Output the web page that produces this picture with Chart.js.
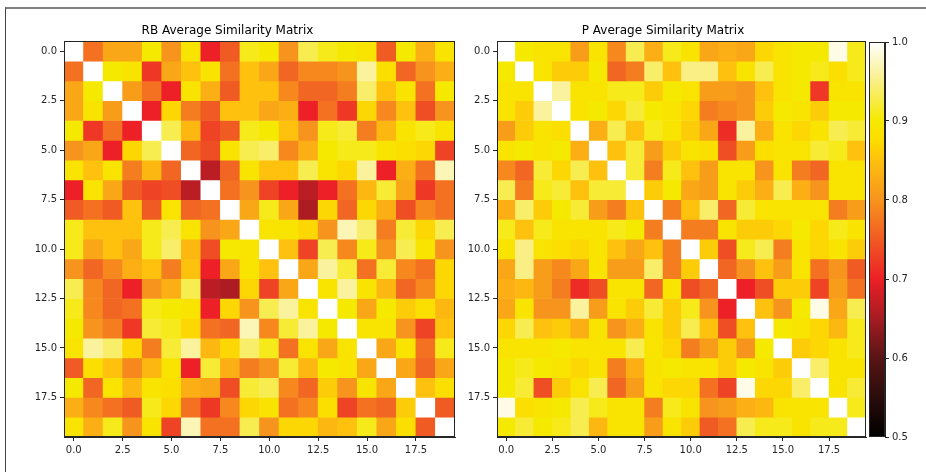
<!DOCTYPE html>
<html>
<head>
<meta charset="utf-8">
<script src="https://cdn.jsdelivr.net/npm/chart.js@4.4.1/dist/chart.umd.min.js"></script>
<style>
  html, body { margin: 0; padding: 0; background: #fff; }
  #page { position: relative; width: 926px; height: 472px; overflow: hidden; }
  #frame { position: absolute; left: 5px; top: 7px; right: 0; bottom: 0; border-top: 2px solid #808080; border-left: 1px solid #444; }
  canvas { position: absolute; top: 0; }
  #rb { left: 0; }
  #p { left: 460px; }
  #cbar { left: 866px; }
</style>
</head>
<body>
<div id="page">
  <div id="frame"></div>
  <canvas id="rb" width="460" height="472"></canvas>
  <canvas id="p" width="410" height="472"></canvas>
  <canvas id="cbar" width="60" height="472"></canvas>
</div>
<script>
// average similarity values, row by row (20 x 20)
const rbMatrix = [
  [1.00, 0.77, 0.82, 0.82, 0.90, 0.80, 0.89, 0.70, 0.75, 0.91, 0.90, 0.80, 0.93, 0.91, 0.90, 0.89, 0.75, 0.90, 0.83, 0.89],
  [0.77, 1.00, 0.90, 0.89, 0.72, 0.82, 0.85, 0.89, 0.77, 0.85, 0.82, 0.76, 0.79, 0.79, 0.80, 0.96, 0.88, 0.76, 0.80, 0.83],
  [0.82, 0.90, 1.00, 0.81, 0.77, 0.70, 0.89, 0.83, 0.75, 0.85, 0.85, 0.79, 0.76, 0.76, 0.78, 0.94, 0.85, 0.89, 0.77, 0.90],
  [0.82, 0.89, 0.81, 1.00, 0.70, 0.87, 0.78, 0.75, 0.85, 0.85, 0.82, 0.83, 0.70, 0.77, 0.72, 0.87, 0.79, 0.85, 0.74, 0.80],
  [0.90, 0.72, 0.77, 0.70, 1.00, 0.93, 0.84, 0.73, 0.75, 0.91, 0.90, 0.85, 0.80, 0.91, 0.92, 0.78, 0.84, 0.89, 0.91, 0.89],
  [0.80, 0.82, 0.70, 0.87, 0.93, 1.00, 0.76, 0.74, 0.89, 0.93, 0.94, 0.79, 0.83, 0.90, 0.91, 0.91, 0.89, 0.88, 0.87, 0.73],
  [0.89, 0.85, 0.89, 0.78, 0.84, 0.76, 1.00, 0.665, 0.76, 0.89, 0.85, 0.85, 0.93, 0.89, 0.87, 0.96, 0.70, 0.83, 0.77, 0.97],
  [0.70, 0.89, 0.82, 0.75, 0.73, 0.74, 0.665, 1.00, 0.77, 0.80, 0.73, 0.70, 0.665, 0.70, 0.77, 0.84, 0.92, 0.82, 0.72, 0.77],
  [0.75, 0.77, 0.75, 0.85, 0.75, 0.89, 0.76, 0.77, 1.00, 0.82, 0.91, 0.82, 0.655, 0.87, 0.76, 0.87, 0.83, 0.74, 0.79, 0.77],
  [0.91, 0.85, 0.85, 0.85, 0.91, 0.93, 0.89, 0.80, 0.82, 1.00, 0.89, 0.89, 0.87, 0.80, 0.97, 0.94, 0.78, 0.92, 0.87, 0.93],
  [0.91, 0.82, 0.85, 0.82, 0.91, 0.94, 0.84, 0.74, 0.90, 0.89, 1.00, 0.85, 0.73, 0.93, 0.79, 0.91, 0.80, 0.93, 0.89, 0.80],
  [0.80, 0.76, 0.79, 0.83, 0.85, 0.78, 0.85, 0.70, 0.82, 0.89, 0.85, 1.00, 0.82, 0.96, 0.92, 0.77, 0.92, 0.79, 0.77, 0.87],
  [0.93, 0.79, 0.76, 0.70, 0.80, 0.83, 0.93, 0.665, 0.655, 0.87, 0.73, 0.82, 1.00, 0.89, 0.96, 0.89, 0.84, 0.76, 0.79, 0.87],
  [0.91, 0.79, 0.76, 0.77, 0.91, 0.90, 0.89, 0.70, 0.87, 0.80, 0.93, 0.96, 0.89, 1.00, 0.90, 0.82, 0.90, 0.86, 0.88, 0.84],
  [0.90, 0.80, 0.78, 0.72, 0.92, 0.91, 0.87, 0.77, 0.76, 0.97, 0.79, 0.92, 0.96, 0.90, 1.00, 0.89, 0.89, 0.80, 0.73, 0.85],
  [0.89, 0.96, 0.94, 0.87, 0.78, 0.92, 0.96, 0.84, 0.87, 0.94, 0.91, 0.77, 0.89, 0.82, 0.89, 1.00, 0.82, 0.89, 0.77, 0.91],
  [0.75, 0.88, 0.85, 0.79, 0.84, 0.89, 0.70, 0.92, 0.83, 0.78, 0.80, 0.92, 0.84, 0.90, 0.89, 0.82, 1.00, 0.82, 0.76, 0.82],
  [0.90, 0.76, 0.89, 0.84, 0.89, 0.88, 0.83, 0.82, 0.74, 0.92, 0.93, 0.79, 0.76, 0.86, 0.80, 0.89, 0.82, 1.00, 0.85, 0.88],
  [0.83, 0.79, 0.77, 0.75, 0.91, 0.87, 0.77, 0.72, 0.79, 0.87, 0.89, 0.77, 0.79, 0.88, 0.73, 0.77, 0.76, 0.86, 1.00, 0.75],
  [0.89, 0.83, 0.91, 0.80, 0.89, 0.73, 0.97, 0.77, 0.77, 0.93, 0.80, 0.87, 0.87, 0.84, 0.85, 0.91, 0.82, 0.88, 0.75, 1.00]
];

const pMatrix = [
  [1.00, 0.90, 0.89, 0.89, 0.81, 0.89, 0.79, 0.93, 0.83, 0.91, 0.89, 0.82, 0.83, 0.82, 0.87, 0.89, 0.90, 0.90, 0.99, 0.91],
  [0.90, 1.00, 0.89, 0.86, 0.86, 0.90, 0.76, 0.78, 0.94, 0.85, 0.95, 0.95, 0.85, 0.89, 0.93, 0.89, 0.90, 0.91, 0.88, 0.91],
  [0.89, 0.89, 1.00, 0.96, 0.89, 0.89, 0.91, 0.91, 0.86, 0.90, 0.89, 0.81, 0.81, 0.80, 0.85, 0.89, 0.90, 0.72, 0.89, 0.89],
  [0.89, 0.86, 0.96, 1.00, 0.89, 0.90, 0.87, 0.92, 0.90, 0.89, 0.87, 0.78, 0.79, 0.80, 0.86, 0.90, 0.89, 0.86, 0.90, 0.90],
  [0.81, 0.86, 0.89, 0.88, 1.00, 0.83, 0.93, 0.85, 0.91, 0.89, 0.86, 0.82, 0.71, 0.96, 0.83, 0.89, 0.87, 0.89, 0.93, 0.92],
  [0.89, 0.90, 0.89, 0.90, 0.83, 1.00, 0.85, 0.92, 0.81, 0.86, 0.89, 0.88, 0.74, 0.81, 0.88, 0.89, 0.89, 0.92, 0.91, 0.85],
  [0.79, 0.76, 0.92, 0.87, 0.93, 0.85, 1.00, 0.92, 0.78, 0.91, 0.85, 0.81, 0.89, 0.89, 0.80, 0.89, 0.78, 0.76, 0.89, 0.89],
  [0.93, 0.78, 0.91, 0.92, 0.85, 0.92, 0.92, 1.00, 0.86, 0.90, 0.82, 0.81, 0.89, 0.86, 0.83, 0.93, 0.83, 0.80, 0.89, 0.89],
  [0.83, 0.94, 0.86, 0.90, 0.92, 0.81, 0.78, 0.85, 1.00, 0.78, 0.85, 0.94, 0.76, 0.92, 0.89, 0.89, 0.89, 0.89, 0.78, 0.81],
  [0.91, 0.85, 0.91, 0.89, 0.89, 0.89, 0.91, 0.90, 0.78, 1.00, 0.78, 0.78, 0.89, 0.86, 0.86, 0.87, 0.90, 0.87, 0.91, 0.89],
  [0.89, 0.95, 0.89, 0.88, 0.87, 0.89, 0.85, 0.82, 0.85, 0.78, 1.00, 0.86, 0.74, 0.91, 0.93, 0.78, 0.89, 0.87, 0.89, 0.86],
  [0.82, 0.95, 0.81, 0.79, 0.82, 0.89, 0.81, 0.81, 0.94, 0.78, 0.86, 1.00, 0.76, 0.80, 0.85, 0.81, 0.89, 0.77, 0.80, 0.75],
  [0.83, 0.84, 0.81, 0.78, 0.71, 0.74, 0.89, 0.89, 0.76, 0.89, 0.74, 0.76, 1.00, 0.70, 0.74, 0.86, 0.86, 0.73, 0.81, 0.77],
  [0.82, 0.89, 0.80, 0.80, 0.96, 0.81, 0.89, 0.86, 0.92, 0.86, 0.91, 0.80, 0.70, 1.00, 0.85, 0.80, 0.90, 0.99, 0.82, 0.93],
  [0.87, 0.93, 0.85, 0.86, 0.83, 0.89, 0.80, 0.83, 0.89, 0.86, 0.93, 0.85, 0.74, 0.85, 1.00, 0.90, 0.89, 0.87, 0.84, 0.91],
  [0.89, 0.89, 0.89, 0.90, 0.89, 0.89, 0.89, 0.93, 0.89, 0.87, 0.78, 0.81, 0.86, 0.80, 0.90, 1.00, 0.86, 0.87, 0.89, 0.91],
  [0.90, 0.91, 0.90, 0.89, 0.87, 0.89, 0.78, 0.83, 0.89, 0.90, 0.89, 0.89, 0.86, 0.90, 0.89, 0.86, 1.00, 0.94, 0.89, 0.89],
  [0.90, 0.92, 0.74, 0.86, 0.89, 0.93, 0.76, 0.81, 0.89, 0.87, 0.87, 0.77, 0.73, 0.99, 0.87, 0.87, 0.94, 1.00, 0.89, 0.92],
  [0.99, 0.88, 0.89, 0.90, 0.93, 0.91, 0.89, 0.89, 0.78, 0.91, 0.89, 0.80, 0.81, 0.83, 0.84, 0.89, 0.89, 0.89, 1.00, 0.91],
  [0.90, 0.92, 0.90, 0.91, 0.93, 0.84, 0.89, 0.89, 0.81, 0.89, 0.86, 0.75, 0.77, 0.93, 0.91, 0.91, 0.89, 0.91, 0.91, 1.00]
];

const axisTicks = [0, 2.5, 5, 7.5, 10, 12.5, 15, 17.5];
const colorbarTicks = [0.5, 0.6, 0.7, 0.8, 0.9, 1.0];
const vmin = 0.5, vmax = 1.0;

// "hot"-style colour ramp: value -> [r, g, b]
const hotStops = [
  [0.50, [0, 0, 0]],
  [0.55, [42, 12, 12]],
  [0.60, [88, 20, 20]],
  [0.65, [165, 28, 34]],
  [0.70, [236, 32, 38]],
  [0.75, [240, 90, 35]],
  [0.80, [247, 148, 29]],
  [0.85, [253, 193, 14]],
  [0.875, [253, 220, 0]],
  [0.90, [245, 233, 0]],
  [0.95, [249, 239, 133]],
  [1.00, [255, 255, 255]]
];

const hotColor = (v) => {
  v = Math.max(vmin, Math.min(vmax, v));
  for (let i = 1; i < hotStops.length; i++) {
    const [v1, c1] = hotStops[i];
    const [v0, c0] = hotStops[i - 1];
    if (v <= v1) {
      const t = (v - v0) / (v1 - v0);
      const c = c0.map((a, k) => Math.round(a + (c1[k] - a) * t));
      return `rgb(${c[0]},${c[1]},${c[2]})`;
    }
  }
  return 'rgb(255,255,255)';
};

const font = { family: 'DejaVu Sans', size: 10 };
const inkColor = '#262626';

// black box around the plot area
const framePlugin = {
  id: 'frame',
  afterDatasetsDraw(chart) {
    const { ctx, chartArea: a } = chart;
    ctx.save();
    ctx.strokeStyle = inkColor;
    ctx.lineWidth = 1;
    ctx.strokeRect(Math.round(a.left) + 0.5, Math.round(a.top) + 0.5,
      Math.round(a.right - a.left) - 1, Math.round(a.bottom - a.top) - 1);
    ctx.restore();
  }
};

// one floating-bar dataset per matrix row, each bar spans one cell
const rowDatasets = (matrix) => matrix.map((row, r) => ({
  data: row.map((v, c) => ({ x: c, y: [r - 0.5, r + 0.5] })),
  backgroundColor: row.map(hotColor),
  borderWidth: 0,
  barPercentage: 1,
  categoryPercentage: 1,
  grouped: false
}));

const tickAxis = (extra) => Object.assign({
  type: 'linear',
  min: -0.5,
  max: 19.5,
  offset: false,
  afterBuildTicks: (s) => { s.ticks = axisTicks.map(v => ({ value: v })); },
  ticks: { callback: (v) => Number(v).toFixed(1), font, color: inkColor, padding: 3, maxRotation: 0, autoSkip: false },
  grid: { offset: false, drawOnChartArea: false, drawTicks: true, tickLength: 4, color: inkColor },
  border: { display: true, color: inkColor }
}, extra);

const makeHeatmap = (id, title, matrix, yAxisWidth, padRight) => new Chart(document.getElementById(id), {
  type: 'bar',
  data: { datasets: rowDatasets(matrix) },
  options: {
    responsive: false,
    animation: false,
    events: [],
    layout: { padding: { top: 24, left: 0, right: padRight, bottom: 5 } },
    plugins: {
      legend: { display: false },
      tooltip: { enabled: false },
      title: {
        display: true,
        text: title,
        color: '#000',
        font: { family: 'DejaVu Sans', size: 12, weight: 'normal' },
        padding: { top: 0, bottom: 3 }
      }
    },
    scales: {
      x: tickAxis({ afterFit: (s) => { s.height = 30; } }),
      y: tickAxis({ reverse: true, beginAtZero: false, afterFit: (s) => { s.width = yAxisWidth; } })
    }
  },
  plugins: [framePlugin]
});

makeHeatmap('rb', 'RB Average Similarity Matrix', rbMatrix, 64, 5);
makeHeatmap('p', 'P Average Similarity Matrix', pMatrix, 37, 4);

// colour bar: a single bar filled with the ramp, on its own value axis
new Chart(document.getElementById('cbar'), {
  type: 'bar',
  data: {
    labels: [''],
    datasets: [{
      data: [[vmin, vmax]],
      borderWidth: 0,
      barPercentage: 1,
      categoryPercentage: 1,
      backgroundColor: (ctx) => {
        const area = ctx.chart.chartArea;
        if (!area) return '#000';
        const g = ctx.chart.ctx.createLinearGradient(0, area.bottom, 0, area.top);
        hotStops.forEach(([v]) => g.addColorStop((v - vmin) / (vmax - vmin), hotColor(v)));
        return g;
      }
    }]
  },
  options: {
    responsive: false,
    animation: false,
    events: [],
    layout: { padding: { top: 42, left: 3, right: 0, bottom: 35 } },
    plugins: { legend: { display: false }, tooltip: { enabled: false } },
    scales: {
      x: { display: false, offset: true },
      y: {
        position: 'right',
        min: vmin,
        max: vmax,
        afterBuildTicks: (s) => { s.ticks = colorbarTicks.map(v => ({ value: v })); },
        afterFit: (s) => { s.width = 41; },
        ticks: { callback: (v) => Number(v).toFixed(1), font, color: inkColor, padding: 3 },
        grid: { drawOnChartArea: false, drawTicks: true, tickLength: 4, color: inkColor },
        border: { display: true, color: inkColor }
      }
    }
  },
  plugins: [framePlugin]
});
</script>
</body>
</html>
